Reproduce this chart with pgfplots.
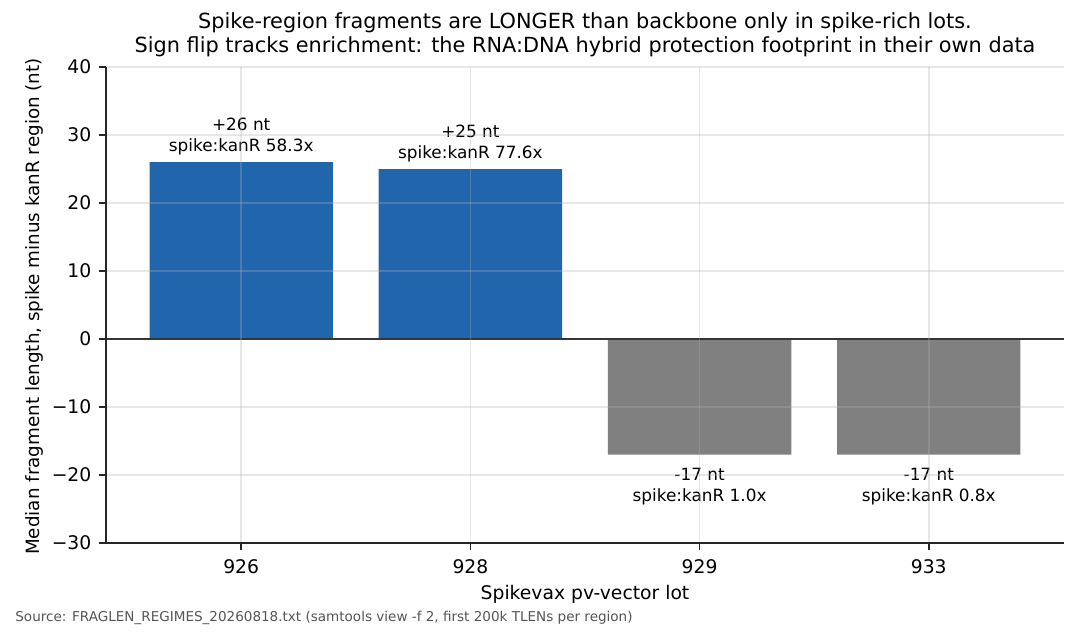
\documentclass[border=0pt]{standalone}
\usepackage{fontspec}
\setmainfont{DejaVu Sans}
\usepackage{pgfplots}
\pgfplotsset{compat=1.18}

\definecolor{barblue}{HTML}{2166AC}
\definecolor{bargray}{HTML}{808080}
\definecolor{srcgray}{HTML}{555555}

\pgfplotstableread{
x val
0 26
1 25
}\spikerich
\pgfplotstableread{
x val
2 -17
3 -17
}\spikepoor

\begin{document}
\begin{tikzpicture}
\path[use as bounding box] (-50.88pt,-46.08pt) rectangle (466.56pt,260.64pt);
\begin{axis}[
    at={(0pt,0pt)}, anchor=south west,
    scale only axis,
    width=459.84pt, height=228.48pt,
    xmin=-0.59, xmax=3.59,
    ymin=-30, ymax=40,
    xtick={0,1,2,3},
    xticklabels={926,928,929,933},
    ytick={-30,-20,-10,0,10,20,30,40},
    yticklabels={−30,−20,−10,0,10,20,30,40},
    axis x line*=bottom,
    axis y line*=left,
    axis line style={line width=0.8pt, black!85},
    tick align=outside,
    major tick length=3.5pt,
    tick style={line width=0.8pt, black!85},
    tick label style={font=\fontsize{9}{10}\selectfont},
    xticklabel style={yshift=-1pt},
    xmajorgrids, ymajorgrids,
    grid style={line width=0.8pt, black!31, opacity=0.3},
    axis on top,
    ybar, bar width=0.8, bar shift=0pt,
    clip=false,
]
\addplot[fill=barblue, draw=none] table[x=x, y=val] {\spikerich};
\addplot[fill=bargray, draw=none] table[x=x, y=val] {\spikepoor};
\draw[black, line width=0.8pt] (axis cs:-0.59,0) -- (axis cs:3.59,0);

\begin{scope}[every node/.style={align=center, inner sep=0pt,
    font=\fontsize{8.1}{10}\selectfont}]
\node[anchor=south] at (axis cs:0,27) {+26 nt\\spike:kanR 58.3x};
\node[anchor=south] at (axis cs:1,26) {+25 nt\\spike:kanR 77.6x};
\node[anchor=north] at (axis cs:2,-19) {-17 nt\\spike:kanR 1.0x};
\node[anchor=north] at (axis cs:3,-19) {-17 nt\\spike:kanR 0.8x};
\end{scope}
\end{axis}

\node[anchor=south, align=center, inner sep=0pt,
      font=\fontsize{10}{11.5}\selectfont] at (229.92pt,233.3pt)
  {Spike-region fragments are LONGER than backbone only in spike-rich lots.\\
   Sign flip tracks enrichment: the RNA:DNA hybrid protection footprint in their own data};
\node[font=\fontsize{9}{11}\selectfont] at (229.92pt,-24.5pt) {Spikevax pv-vector lot};
\node[rotate=90, font=\fontsize{8.8}{11}\selectfont] at (-34.5pt,113.5pt)
  {Median fragment length, spike minus kanR region (nt)};
\node[anchor=west, inner sep=0pt, text=srcgray, font=\fontsize{6.5}{8}\selectfont]
  at (-43.7pt,-36.2pt)
  {Source: FRAGLEN\_REGIMES\_20260818.txt (samtools view -f 2, first 200k TLENs per region)};
\end{tikzpicture}
\end{document}
